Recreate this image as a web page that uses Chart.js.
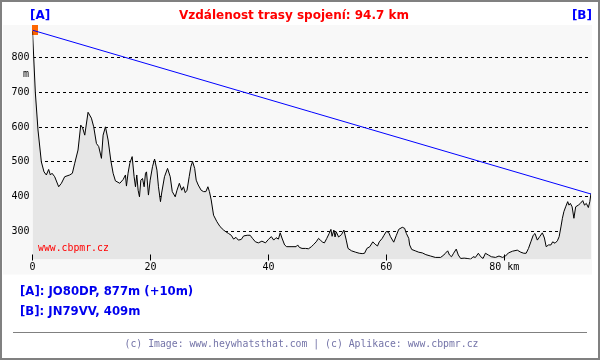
<!DOCTYPE html>
<html>
<head>
<meta charset="utf-8">
<title>Profil trasy spojení</title>
<script src="https://cdn.jsdelivr.net/npm/chart.js"></script>
<style>
  body { margin: 0; background: #fff; }
  #wrap { position: relative; width: 600px; height: 360px; overflow: hidden; background: #fff; }
  #profile { position: absolute; left: 0; top: 0; }
  .txt { position: absolute; white-space: nowrap; }
  .bold { font-family: "DejaVu Sans", Verdana, sans-serif; font-weight: bold; }
  .mono { font-family: "DejaVu Sans Mono", "Liberation Mono", monospace; }
  #title { left: 0; width: 588px; top: 7px; line-height: 16px; text-align: center; font-size: 12px; color: #ff0000; }
  #ptA { left: 30px; top: 7px; line-height: 16px; font-size: 12px; color: #0000ff; }
  #ptB { right: 8px; top: 7px; line-height: 16px; font-size: 12px; color: #0000ff; }
  #unit { left: 23px; top: 68px; line-height: 12px; font-size: 10px; color: #000; }
  #wm { left: 38px; top: 242px; line-height: 12px; font-size: 9.8px; color: #ff0000; }
  #infoA { left: 20px; top: 283px; line-height: 16px; font-size: 11.7px; color: #0000ee; }
  #infoB { left: 20px; top: 303px; line-height: 16px; font-size: 11.7px; color: #0000ee; }
  #rule { position: absolute; left: 13px; top: 332px; width: 574px; height: 1px; background: #808080; }
  #foot { left: 0; width: 603px; top: 338px; line-height: 12px; text-align: center; font-size: 9.8px; color: #7474a8; }
  #frame { position: absolute; left: 0; top: 0; width: 600px; height: 360px; box-sizing: border-box; border: 2px solid #808080; pointer-events: none; }
</style>
</head>
<body>
<div id="wrap">
  <canvas id="profile" width="600" height="360"></canvas>
  <div class="txt bold" id="title">Vzdálenost trasy spojení: 94.7 km</div>
  <div class="txt bold" id="ptA">[A]</div>
  <div class="txt bold" id="ptB">[B]</div>
  <div class="txt mono" id="unit">m</div>
  <div class="txt mono" id="wm">www.cbpmr.cz</div>
  <div class="txt bold" id="infoA">[A]: JO80DP, 877m (+10m)</div>
  <div class="txt bold" id="infoB">[B]: JN79VV, 409m</div>
  <div id="rule"></div>
  <div class="txt mono" id="foot">(c) Image: www.heywhatsthat.com | (c) Aplikace: www.cbpmr.cz</div>
  <div id="frame"></div>
</div>
<script>
// terrain profile: distance from A (km) and elevation (m)
const distKm = [
  0, 0.48, 0.93, 1.5, 1.95, 2.35, 2.74, 3.03, 3.31, 3.76,
  4.44, 4.9, 5.46, 6.31, 6.76, 7.16, 7.72, 8.18, 8.5, 8.86,
  9.42, 9.99, 10.38, 10.84, 11.23, 11.69, 11.97, 12.37, 12.82, 13.27,
  13.67, 14.06, 14.8, 15.37, 15.76, 15.93, 16.2, 16.5, 16.9, 17.23,
  17.46, 17.68, 17.91, 18.14, 18.37, 18.65, 18.93, 19.16, 19.33, 19.66,
  19.95, 20.35, 20.7, 21.1, 21.36, 21.7, 21.9, 22.38, 22.9, 23.35,
  23.7, 24.2, 24.5, 24.9, 25.3, 25.6, 25.9, 26.2, 26.57, 26.85,
  27.14, 27.5, 27.76, 28.1, 28.6, 29.0, 29.4, 29.74, 30.0, 30.3,
  30.7, 31.27, 31.8, 32.4, 32.8, 33.25, 33.7, 34.1, 34.5, 34.9,
  35.4, 35.8, 36.4, 36.9, 37.3, 37.8, 38.3, 38.9, 39.5, 40.0,
  40.5, 40.9, 41.3, 41.7, 42.0, 42.3, 42.75, 43.1, 44.0, 44.7,
  44.96, 45.25, 45.7, 46.3, 46.8, 47.3, 47.7, 48.1, 48.5, 48.8,
  49.2, 49.5, 49.9, 50.3, 50.6, 50.8, 51.1, 51.3, 51.5, 51.9,
  52.4, 52.8, 53.2, 53.5, 54.1, 54.8, 55.4, 55.9, 56.3, 56.7,
  57.2, 57.7, 58.1, 58.5, 58.8, 59.3, 59.6, 60.0, 60.4, 60.7,
  61.25, 61.7, 62.1, 62.7, 63.1, 63.4, 63.8, 63.95, 64.3, 64.9,
  65.5, 66.1, 66.7, 67.5, 68.3, 69.2, 69.75, 70.0, 70.4, 70.7,
  71.05, 71.4, 71.85, 72.2, 72.6, 73.2, 73.7, 74.3, 74.7, 75.1,
  75.6, 76.0, 76.4, 76.8, 77.3, 77.8, 78.5, 79.1, 79.7, 80.2,
  80.7, 81.4, 82.2, 82.8, 83.3, 83.7, 84.1, 84.5, 84.9, 85.2,
  85.6, 86.0, 86.45, 86.8, 87.1, 87.5, 87.9, 88.2, 88.6, 89.0,
  89.3, 89.6, 89.85, 90.1, 90.4, 90.75, 90.96, 91.2, 91.5, 91.8,
  92.1, 92.55, 92.9, 93.3, 93.6, 93.9, 94.25, 94.5, 94.7
];
const elevM = [
  877, 700, 592, 500, 471, 462, 478, 462, 467, 457,
  428, 438, 457, 462, 467, 496, 534, 606, 598, 577,
  643, 626, 601, 553, 544, 510, 577, 601, 563, 505,
  467, 445, 438, 449, 462, 430, 467, 496, 515, 457,
  428, 462, 418, 399, 447, 452, 428, 467, 471, 404,
  447, 486, 508, 476, 428, 385, 410, 457, 481, 457,
  414, 399, 418, 438, 418, 428, 411, 418, 457, 486,
  501, 481, 447, 433, 418, 414, 414, 428, 414, 390,
  346, 327, 313, 303, 298, 293, 288, 277, 282, 274,
  276, 286, 288, 288, 279, 269, 266, 271, 266, 276,
  284, 274, 281, 277, 295, 280, 260, 255, 255, 255,
  260, 253, 250, 250, 249, 255, 262, 269, 279, 274,
  268, 266, 279, 293, 305, 285, 303, 283, 298, 283,
  290, 303, 274, 250, 243, 239, 236, 235, 236, 250,
  255, 269, 262, 257, 269, 279, 288, 299, 296, 284,
  268, 288, 305, 311, 308, 293, 279, 260, 247, 243,
  239, 237, 232, 228, 224, 224, 231, 236, 243, 231,
  226, 236, 248, 231, 221, 222, 221, 219, 226, 224,
  236, 226, 221, 236, 231, 226, 224, 228, 224, 228,
  237, 242, 245, 239, 236, 236, 250, 269, 288, 293,
  274, 284, 295, 280, 255, 260, 260, 269, 265, 272,
  284, 312, 337, 356, 370, 385, 375, 380, 370, 337,
  370, 375, 380, 388, 375, 380, 368, 385, 409
];

// straight line of sight A -> B
const sightKm = [0, 94.7];
const sightM = [880, 407];

const kmTicks = [0, 20, 40, 60, 80];
const kmTickLabels = ['0', '20', '40', '60', '80 km'];
const mTicks = [300, 400, 500, 600, 700, 800];

const profile = distKm.map((d, i) => ({ x: d, y: elevM[i] }));
const sight = sightKm.map((d, i) => ({ x: d, y: sightM[i] }));

const monoFont = { family: 'DejaVu Sans Mono', size: 10 };

// light panel behind the plot
const plotBackground = {
  id: 'plotBackground',
  beforeDraw(chart) {
    const { ctx, chartArea } = chart;
    ctx.save();
    ctx.fillStyle = '#f8f8f8';
    ctx.fillRect(3, chartArea.top, chartArea.right + 1 - 3, chartArea.bottom - chartArea.top + 15);
    ctx.restore();
  }
};

// orange box at point A
const startMarker = {
  id: 'startMarker',
  beforeDatasetsDraw(chart) {
    const { ctx, scales } = chart;
    const px = scales.x.getPixelForValue(sightKm[0]);
    const py = scales.y.getPixelForValue(sightM[0]);
    ctx.save();
    ctx.fillStyle = '#ff6600';
    ctx.fillRect(Math.floor(px), Math.round(py) - 5, 6, 10);
    ctx.restore();
  }
};

// short km tick marks sitting on the bottom edge
const kmTickMarks = {
  id: 'kmTickMarks',
  afterDatasetsDraw(chart) {
    const { ctx, scales, chartArea } = chart;
    ctx.save();
    ctx.strokeStyle = '#000';
    ctx.lineWidth = 1;
    ctx.beginPath();
    scales.x.ticks.forEach(t => {
      const px = Math.floor(scales.x.getPixelForValue(t.value)) + 0.5;
      ctx.moveTo(px, chartArea.bottom - 5);
      ctx.lineTo(px, chartArea.bottom + 1);
    });
    ctx.stroke();
    ctx.restore();
  }
};

new Chart(document.getElementById('profile'), {
  type: 'line',
  data: {
    datasets: [
      {
        label: 'A - B',
        data: sight,
        borderColor: '#0000ff',
        borderWidth: 1,
        pointRadius: 0,
        fill: false
      },
      {
        label: 'Profil',
        data: profile,
        borderColor: '#000000',
        borderWidth: 1,
        pointRadius: 0,
        tension: 0,
        fill: 'start',
        backgroundColor: '#e6e6e6'
      }
    ]
  },
  options: {
    responsive: false,
    animation: false,
    events: [],
    layout: { padding: { top: 25, right: 9, left: 0, bottom: 0 } },
    plugins: {
      legend: { display: false },
      tooltip: { enabled: false },
      title: { display: false }
    },
    scales: {
      x: {
        type: 'linear',
        min: 0,
        max: 94.7,
        afterFit: s => { s.height = 100.5; },
        afterBuildTicks: s => { s.ticks = kmTicks.map(v => ({ value: v })); },
        grid: { display: false, drawTicks: false },
        border: { display: false },
        ticks: {
          autoSkip: false,
          maxRotation: 0,
          padding: 2,
          color: '#000',
          font: monoFont,
          callback: v => kmTickLabels[kmTicks.indexOf(v)]
        }
      },
      y: {
        min: 218,
        max: 895,
        z: 1,
        afterFit: s => { s.width = 32.5; },
        afterBuildTicks: s => { s.ticks = mTicks.map(v => ({ value: v })); },
        grid: { color: '#000', lineWidth: 1, drawTicks: false },
        border: { display: false, dash: [3, 3] },
        ticks: {
          padding: 3,
          color: '#000',
          font: monoFont
        }
      }
    }
  },
  plugins: [plotBackground, startMarker, kmTickMarks]
});
</script>
</body>
</html>
